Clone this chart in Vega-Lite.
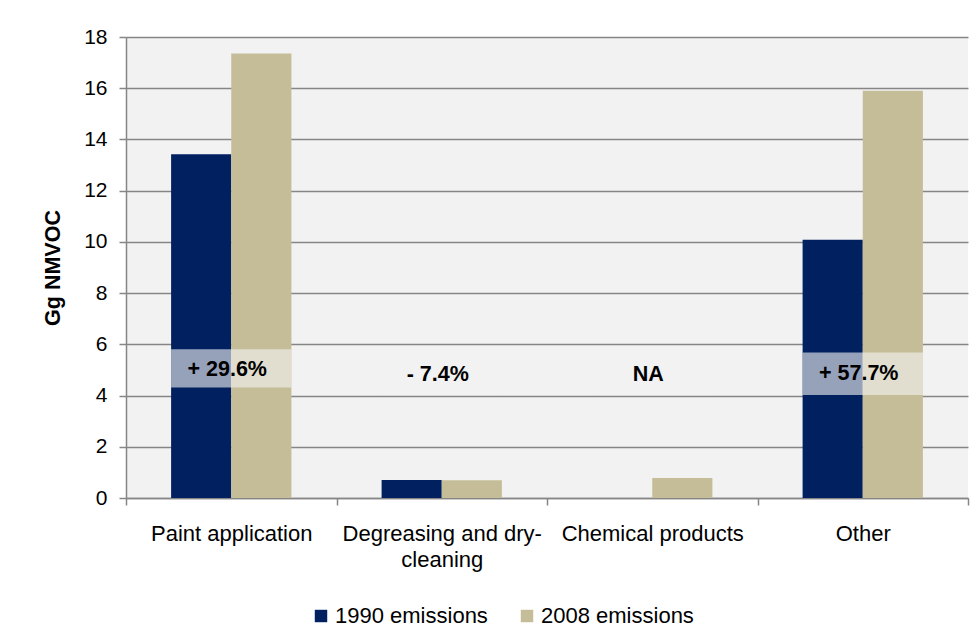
{
  "$schema": "https://vega.github.io/schema/vega-lite/v6.json",
  "width": 842,
  "height": 461,
  "autosize": {"type": "none"},
  "padding": {"left": 126, "top": 37, "right": 11, "bottom": 145},
  "background": "white",
  "config": {
    "font": "Liberation Sans",
    "view": {"fill": "#f2f2f2", "stroke": null}
  },
  "datasets": {
    "bars": [
      {"category": "Paint application", "series": "1990 emissions", "value": 13.42},
      {"category": "Paint application", "series": "2008 emissions", "value": 17.36},
      {"category": "Degreasing and dry-cleaning", "series": "1990 emissions", "value": 0.70},
      {"category": "Degreasing and dry-cleaning", "series": "2008 emissions", "value": 0.69},
      {"category": "Chemical products", "series": "1990 emissions", "value": 0},
      {"category": "Chemical products", "series": "2008 emissions", "value": 0.78},
      {"category": "Other", "series": "1990 emissions", "value": 10.08},
      {"category": "Other", "series": "2008 emissions", "value": 15.9}
    ],
    "labels": [
      {"category": "Paint application", "label": "+ 29.6%", "pos": 5.0, "lo": 4.31, "hi": 5.81},
      {"category": "Degreasing and dry-cleaning", "label": "- 7.4%", "pos": 4.8, "lo": 4.05, "hi": 5.6},
      {"category": "Chemical products", "label": "NA", "pos": 4.8, "lo": 4.05, "hi": 5.6},
      {"category": "Other", "label": "+ 57.7%", "pos": 4.84, "lo": 4.02, "hi": 5.68}
    ]
  },
  "layer": [
    {
      "data": {"name": "bars"},
      "mark": {"type": "bar"},
      "encoding": {
        "x": {
          "field": "category", "type": "nominal",
          "sort": ["Paint application", "Degreasing and dry-cleaning", "Chemical products", "Other"],
          "scale": {"paddingInner": 0, "paddingOuter": 0},
          "axis": {
            "title": null,
            "labelAngle": 0,
            "labelFontSize": 22,
            "labelColor": "#000000",
            "labelPadding": 18,
            "labelLineHeight": 26,
            "labelLimit": 300,
            "labelExpr": "datum.value == 'Degreasing and dry-cleaning' ? ['Degreasing and dry-', 'cleaning'] : datum.value",
            "tickBand": "extent",
            "tickSize": 7,
            "tickColor": "#868686",
            "tickWidth": 1.5,
            "domainColor": "#868686",
            "domainWidth": 1.5,
            "grid": false
          }
        },
        "xOffset": {
          "field": "series", "type": "nominal",
          "scale": {"paddingInner": 0, "paddingOuter": 0.75}
        },
        "y": {
          "field": "value", "type": "quantitative",
          "scale": {"domain": [0, 18], "nice": false},
          "axis": {
            "title": "Gg NMVOC",
            "titleFontSize": 21.5,
            "titleFontWeight": "bold",
            "titleColor": "#000000",
            "titlePadding": 19,
            "values": [0, 2, 4, 6, 8, 10, 12, 14, 16, 18],
            "labelFontSize": 21,
            "labelColor": "#000000",
            "labelPadding": 12,
            "tickSize": 7,
            "tickColor": "#868686",
            "tickWidth": 1.5,
            "domainColor": "#868686",
            "domainWidth": 1.5,
            "grid": true,
            "gridColor": "#868686",
            "gridWidth": 1.5
          }
        },
        "color": {
          "field": "series", "type": "nominal",
          "scale": {"domain": ["1990 emissions", "2008 emissions"], "range": ["#002060", "#c4bd97"]},
          "legend": {
            "title": null,
            "orient": "none",
            "direction": "horizontal",
            "legendX": 184,
            "legendY": 568,
            "symbolType": "square",
            "symbolSize": 155,
            "symbolStrokeWidth": 0,
            "symbolOpacity": 1,
            "labelFontSize": 22,
            "labelColor": "#000000",
            "labelOffset": 3,
            "columnPadding": 28
          }
        }
      }
    },
    {
      "data": {"name": "labels"},
      "mark": {"type": "bar", "color": "#f2f2f2", "opacity": 0.62, "width": {"band": 0.5714}},
      "encoding": {
        "x": {"field": "category", "type": "nominal", "sort": ["Paint application", "Degreasing and dry-cleaning", "Chemical products", "Other"]},
        "y": {"field": "lo", "type": "quantitative"},
        "y2": {"field": "hi"}
      }
    },
    {
      "data": {"name": "labels"},
      "mark": {"type": "text", "fontSize": 21.5, "fontWeight": "bold", "color": "#000000", "dx": -4},
      "encoding": {
        "x": {"field": "category", "type": "nominal", "sort": ["Paint application", "Degreasing and dry-cleaning", "Chemical products", "Other"]},
        "y": {"field": "pos", "type": "quantitative"},
        "text": {"field": "label"}
      }
    }
  ]
}
